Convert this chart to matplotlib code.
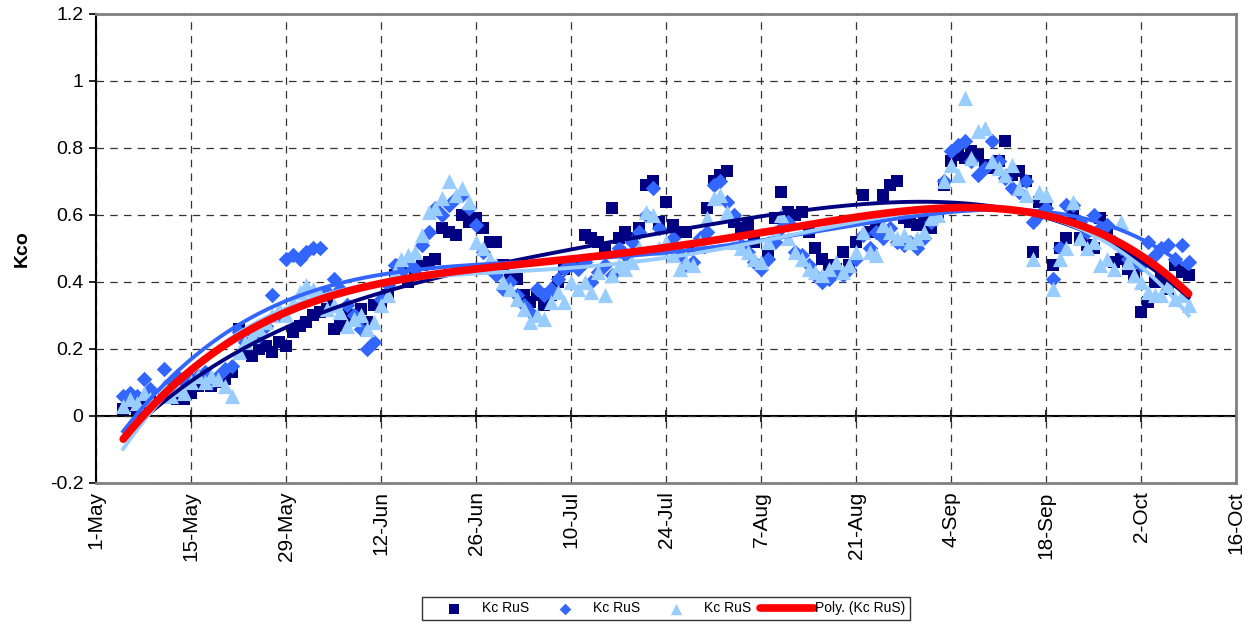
import numpy as np
import pandas as pd
import matplotlib
matplotlib.use('agg')
import matplotlib.pyplot as plt
import matplotlib.dates as mdates

plt.rcParams['font.family'] = ['Liberation Sans', 'DejaVu Sans']

# day offsets from 1-May (day 9 missing)
days = [4, 5, 6, 7, 8] + list(range(10, 162))

kc_sq = [0.02, 0.03, 0.02, 0.04, 0.05, 0.06, 0.07, 0.05, 0.05, 0.07, 0.09, 0.10, 0.09, 0.10, 0.11, 0.13,
         0.26, 0.19, 0.18, 0.20, 0.21, 0.19, 0.22, 0.21, 0.25, 0.27, 0.28, 0.30, 0.31, 0.33, 0.26, 0.27, 0.30, 0.29, 0.32, 0.28, 0.33,
         0.33, 0.36, 0.42, 0.45, 0.40, 0.44, 0.45, 0.46, 0.47, 0.56, 0.55, 0.54, 0.60, 0.58,
         0.59, 0.56, 0.52, 0.52, 0.45, 0.41, 0.41, 0.36, 0.34, 0.36, 0.33, 0.36, 0.40, 0.44, 0.46,
         0.45, 0.54, 0.53, 0.52, 0.50, 0.62, 0.53, 0.55, 0.53, 0.56, 0.69, 0.70, 0.58,
         0.64, 0.57, 0.55, 0.55, 0.50, 0.50, 0.62, 0.70, 0.72, 0.73, 0.58, 0.56, 0.57, 0.52, 0.45,
         0.48, 0.59, 0.67, 0.61, 0.60, 0.61, 0.55, 0.50, 0.47, 0.45, 0.44, 0.49, 0.45,
         0.52, 0.66, 0.55, 0.56, 0.66, 0.69, 0.70, 0.59, 0.58, 0.57, 0.58, 0.56, 0.60, 0.69,
         0.76, 0.78, 0.77, 0.79, 0.78, 0.75, 0.74, 0.76, 0.82, 0.72, 0.73, 0.70, 0.49, 0.64, 0.63, 0.45, 0.50, 0.53,
         0.60, 0.53, 0.51, 0.50, 0.59, 0.55, 0.46, 0.47, 0.44, 0.42, 0.31, 0.34, 0.40, 0.41, 0.38, 0.45, 0.43, 0.42]

kc_di = [0.06, 0.07, 0.06, 0.11, 0.08, 0.14, 0.10, 0.12, 0.10, 0.11, 0.12, 0.13, 0.10, 0.12, 0.14, 0.15,
         0.25, 0.22, 0.25, 0.24, 0.27, 0.36, 0.30, 0.47, 0.48, 0.47, 0.49, 0.50, 0.50, 0.37, 0.41, 0.38, 0.33, 0.30, 0.26, 0.20, 0.22,
         0.35, 0.39, 0.45, 0.43, 0.46, 0.44, 0.51, 0.55, 0.62, 0.60, 0.63, 0.65, 0.66, 0.62,
         0.57, 0.49, 0.44, 0.42, 0.38, 0.40, 0.36, 0.33, 0.31, 0.38, 0.36, 0.38, 0.41, 0.44, 0.45,
         0.44, 0.46, 0.40, 0.43, 0.45, 0.42, 0.50, 0.48, 0.52, 0.55, 0.60, 0.68, 0.56,
         0.50, 0.53, 0.48, 0.45, 0.46, 0.53, 0.55, 0.69, 0.70, 0.64, 0.60, 0.51, 0.49, 0.46, 0.44,
         0.47, 0.52, 0.56, 0.58, 0.49, 0.48, 0.45, 0.42, 0.40, 0.41, 0.43, 0.42, 0.44,
         0.47, 0.54, 0.50, 0.55, 0.53, 0.56, 0.52, 0.51, 0.52, 0.50, 0.53, 0.58, 0.61, 0.70,
         0.79, 0.81, 0.82, 0.76, 0.72, 0.74, 0.82, 0.76, 0.71, 0.68, 0.67, 0.70, 0.58, 0.60, 0.62, 0.41, 0.50, 0.63,
         0.63, 0.58, 0.55, 0.60, 0.56, 0.57, 0.52, 0.50, 0.47, 0.46, 0.45, 0.52, 0.48, 0.50, 0.51, 0.47, 0.51, 0.46]

kc_tr = [0.03, 0.05, 0.04, 0.07, 0.05, 0.09, 0.06, 0.08, 0.07, 0.10, 0.12, 0.10, 0.12, 0.11, 0.09, 0.06,
         0.19, 0.22, 0.24, 0.26, 0.28, 0.30, 0.32, 0.30, 0.34, 0.37, 0.39, 0.38, 0.36, 0.32, 0.33, 0.31, 0.27, 0.29, 0.30, 0.26, 0.28,
         0.33, 0.36, 0.43, 0.47, 0.48, 0.49, 0.54, 0.61, 0.62, 0.65, 0.70, 0.66, 0.68, 0.64,
         0.52, 0.50, 0.47, 0.45, 0.40, 0.38, 0.35, 0.32, 0.28, 0.30, 0.29, 0.34, 0.37, 0.34, 0.40,
         0.38, 0.40, 0.37, 0.43, 0.36, 0.42, 0.45, 0.44, 0.46, 0.50, 0.61, 0.60, 0.50,
         0.52, 0.48, 0.44, 0.46, 0.45, 0.52, 0.59, 0.65, 0.66, 0.61, 0.52, 0.50, 0.49, 0.47, 0.46,
         0.52, 0.55, 0.60, 0.53, 0.49, 0.47, 0.44, 0.43, 0.42, 0.44, 0.46, 0.43, 0.45,
         0.49, 0.55, 0.49, 0.48, 0.57, 0.55, 0.53, 0.54, 0.52, 0.53, 0.55, 0.59, 0.60, 0.70,
         0.75, 0.72, 0.95, 0.77, 0.85, 0.86, 0.76, 0.74, 0.72, 0.75, 0.68, 0.66, 0.47, 0.67, 0.66, 0.38, 0.47, 0.50,
         0.64, 0.53, 0.50, 0.52, 0.45, 0.47, 0.44, 0.58, 0.46, 0.42, 0.40, 0.37, 0.36, 0.36, 0.39, 0.35, 0.36, 0.33]

start = pd.Timestamp('2008-05-01')
tick_dates = pd.date_range(start, periods=13, freq='14D')
POLY_ORDER = 4

d = np.array(days, dtype=float)
dates = start + pd.to_timedelta(d, unit='D')
fine = np.linspace(d.min(), d.max(), 400)
fine_dates = start + pd.to_timedelta(fine, unit='D')

fig = plt.figure(figsize=(12.57, 6.24), dpi=100)
ax = fig.add_axes([0.0764, 0.226, 0.907, 0.7516])

series = [
    (kc_sq, 's', '#000080', 85),
    (kc_di, 'D', '#3366FF', 62),
    (kc_tr, '^', '#99CCFF', 120),
]
for vals, mk, col, sz in series:
    ax.scatter(dates, vals, marker=mk, s=sz, color=col, linewidths=0, zorder=3, label='Kc RuS')

# polynomial trendlines, one per series
for vals, mk, col, sz in series:
    coef = np.polyfit(d, vals, POLY_ORDER)
    ax.plot(fine_dates, np.polyval(coef, fine), color=col, lw=2.8, zorder=4)

all_d = np.concatenate([d, d, d])
all_v = np.concatenate([kc_sq, kc_di, kc_tr])
coef = np.polyfit(all_d, all_v, POLY_ORDER)
ax.plot(fine_dates, np.polyval(coef, fine), color='#FF0000', lw=5.5, zorder=5,
        solid_capstyle='round', label='Poly. (Kc RuS)')

ax.set_xlim(tick_dates[0], tick_dates[-1])
ax.set_ylim(-0.2, 1.2)
ax.set_yticks(np.arange(-0.2, 1.21, 0.2))
ax.set_yticklabels(['-0.2', '0', '0.2', '0.4', '0.6', '0.8', '1', '1.2'])
ax.set_xticks(tick_dates)
ax.xaxis.set_major_formatter(mdates.DateFormatter('%-d-%b'))
plt.setp(ax.get_xticklabels(), rotation=90)
ax.tick_params(axis='x', length=0, pad=6, labelsize=15)
ax.tick_params(axis='y', direction='out', length=5, width=1.2, labelsize=14, pad=4)

ax.grid(True, color='#333333', linestyle=(0, (6, 5)), linewidth=0.9)
ax.set_axisbelow(True)

for side in ['top', 'right', 'bottom']:
    ax.spines[side].set_color('#808080')
    ax.spines[side].set_linewidth(2)
ax.spines['left'].set_color('black')
ax.spines['left'].set_linewidth(1.5)

# x axis crossing at y = 0
zero_ax = ax.secondary_xaxis(0.2 / 1.4)
zero_ax.set_xticks(tick_dates)
zero_ax.tick_params(direction='inout', length=9, width=1.2, labelbottom=False)
zero_ax.spines['bottom'].set_linewidth(1.5)

ax.set_ylabel('Kco', fontsize=14, fontweight='bold', labelpad=14)

handles, labels = ax.get_legend_handles_labels()
leg = fig.legend(handles, labels, loc='lower center', bbox_to_anchor=(0.53, 0.006), ncol=4,
                 fontsize=10, frameon=True, fancybox=False, edgecolor='black',
                 handletextpad=0.1, columnspacing=0.6, handlelength=3.9, borderpad=0.35,
                 borderaxespad=0, markerscale=0.75)
leg.get_frame().set_linewidth(1)

fig.savefig('out.png', dpi=100)
